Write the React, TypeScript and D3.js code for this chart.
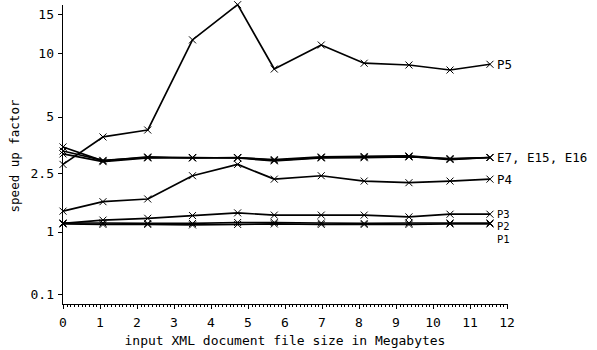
import React from "react";
import * as d3 from "d3";

const fileSizes = [0, 1.08, 2.29, 3.5, 4.72, 5.71, 6.98, 8.14, 9.35, 10.46, 11.54];
const seriesNames = ["P5", "E7", "E15", "E16", "P4", "P3", "P2", "P1"];
const P5 = [2.8, 3.94, 4.28, 11.5, 16.5, 8.46, 10.9, 9.0, 8.83, 8.37, 8.9];
const E7 = [3.49, 2.93, 3.08, 3.05, 3.05, 2.98, 3.08, 3.1, 3.12, 3.0, 3.06];
const E15 = [3.32, 2.95, 3.06, 3.04, 3.06, 2.95, 3.06, 3.08, 3.1, 2.98, 3.06];
const E16 = [3.2, 2.9, 3.04, 3.06, 3.04, 2.93, 3.04, 3.05, 3.08, 3.02, 3.06];
const P4 = [1.43, 1.66, 1.73, 2.41, 2.8, 2.3, 2.41, 2.24, 2.19, 2.24, 2.3];
const P3 = [1.16, 1.23, 1.27, 1.33, 1.39, 1.34, 1.34, 1.34, 1.3, 1.36, 1.36];
const P2 = [1.17, 1.17, 1.16, 1.16, 1.18, 1.18, 1.17, 1.16, 1.17, 1.17, 1.17];
const P1 = [1.15, 1.14, 1.14, 1.13, 1.14, 1.15, 1.14, 1.14, 1.14, 1.15, 1.15];
const seriesValues = [P5, E7, E15, E16, P4, P3, P2, P1];
const endLabels = [
  { text: "P5", series: ["P5"] },
  { text: "E7, E15, E16", series: ["E7", "E15", "E16"] },
  { text: "P4", series: ["P4"] },
  { text: "P3", series: ["P3"] },
  { text: "P2", series: ["P2"] },
  { text: "P1", series: ["P1"] },
];
const yTicks = [0.1, 1, 2.5, 5, 10, 15];
const xTicks = [0, 1, 2, 3, 4, 5, 6, 7, 8, 9, 10, 11, 12];
const xTitle = "input XML document file size in Megabytes";
const yTitle = "speed up factor";

const W = 597;
const H = 350;
const FONT = "'DejaVu Sans Mono', monospace";

export default function App() {
  const x = d3.scaleLinear().domain([0, 12]).range([63, 507]);
  const y = d3.scaleSymlog().constant(1).domain([0, 16.45]).range([304, 5]);
  const line = d3
    .line<number>()
    .x((_, i) => x(fileSizes[i]))
    .y((d) => y(d));
  const minor = d3.range(0, 120).map((i) => i / 10);

  // end label placement with simple collision avoidance
  const last = fileSizes.length - 1;
  const labels = endLabels
    .map((l) => {
      const vals = l.series.map((s) => seriesValues[seriesNames.indexOf(s)][last]);
      return { text: l.text, y: y(d3.mean(vals) as number), stacked: false };
    })
    .sort((a, b) => a.y - b.y);
  const gap = 12.5;
  for (let i = 1; i < labels.length; i++) {
    if (labels[i].y - labels[i - 1].y < gap) {
      labels[i].y = labels[i - 1].y + gap;
      labels[i].stacked = true;
      labels[i - 1].stacked = true;
    }
  }

  const m = 3.5;
  return (
    <svg
      width={W}
      height={H}
      style={{ position: "absolute", left: 0, top: 0, background: "#fff" }}
      fontFamily={FONT}
    >
      <rect width={W} height={H} fill="#fff" />
      {/* axes */}
      <line x1={62.5} x2={62.5} y1={5} y2={304} stroke="#000" strokeWidth={1} />
      <line x1={62} x2={507.5} y1={304.5} y2={304.5} stroke="#000" strokeWidth={1} />
      {yTicks.map((t) => (
        <g key={"y" + t}>
          <line x1={58} x2={62} y1={Math.round(y(t)) + 0.5} y2={Math.round(y(t)) + 0.5} stroke="#000" />
          <text x={54} y={y(t)} dy="0.35em" textAnchor="end" fontSize={13} fill="#000">
            {t}
          </text>
        </g>
      ))}
      {minor.map((t) => (
        <line
          key={"m" + t}
          x1={Math.round(x(t)) + 0.5}
          x2={Math.round(x(t)) + 0.5}
          y1={304}
          y2={Math.abs(t - Math.round(t)) < 1e-9 ? 309 : 307}
          stroke="#000"
        />
      ))}
      <line x1={507.5} x2={507.5} y1={304} y2={309} stroke="#000" />
      {xTicks.map((t) => (
        <text key={"x" + t} x={x(t)} y={322} dy="0.35em" textAnchor="middle" fontSize={13} fill="#000">
          {t}
        </text>
      ))}
      <text x={285} y={340} dy="0.35em" textAnchor="middle" fontSize={13} fill="#000">
        {xTitle}
      </text>
      <text
        transform={`translate(15,156) rotate(-90)`}
        dy="0.35em"
        textAnchor="middle"
        fontSize={12.5}
        fill="#000"
      >
        {yTitle}
      </text>
      {/* series */}
      {seriesValues.map((vals, si) => (
        <g key={seriesNames[si]}>
          <path d={line(vals) as string} fill="none" stroke="#000" strokeWidth={1.7} strokeLinejoin="round" />
          {vals.map((v, i) => {
            const cx = x(fileSizes[i]);
            const cy = y(v);
            return (
              <path
                key={i}
                d={`M${cx - m},${cy - m}L${cx + m},${cy + m}M${cx - m},${cy + m}L${cx + m},${cy - m}`}
                stroke="#000"
                strokeWidth={1}
                fill="none"
              />
            );
          })}
        </g>
      ))}
      {labels.map((l) => (
        <text
          key={l.text}
          x={x(fileSizes[last]) + 7}
          y={l.y}
          dy="0.35em"
          fontSize={l.stacked ? 10.5 : 12.5}
          fill="#000"
        >
          {l.text}
        </text>
      ))}
    </svg>
  );
}
